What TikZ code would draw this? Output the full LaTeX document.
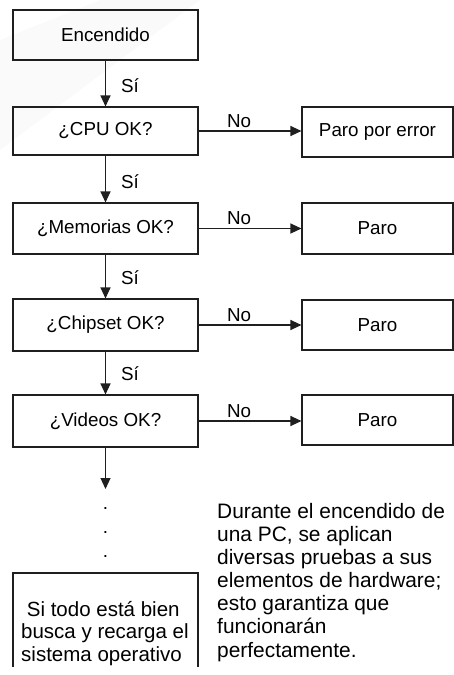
\documentclass[tikz,border=0pt]{standalone}
\usepackage{fontspec}
\setmainfont{Liberation Sans}
\usetikzlibrary{arrows.meta}

\tikzset{
  box/.style={draw=black!88, line width=1.1pt, rectangle, inner sep=0pt,
              minimum width=185pt, font=\fontsize{18.8}{22}\selectfont},
  stopbox/.style={box, minimum width=151pt, minimum height=50pt},
  arr/.style={draw=black!88, line width=1.1pt,
              -{Triangle[length=11pt,width=10pt]}},
  lbl/.style={font=\fontsize{18.8}{22}\selectfont, inner sep=0pt},
  silbl/.style={lbl, anchor=base west, at end, xshift=15pt, yshift=14pt},
  nolbl/.style={lbl, anchor=base west, at start, xshift=28pt, yshift=4pt},
}

\begin{document}
\begin{tikzpicture}[x=1pt, y=-1pt]
  \useasboundingbox (0,0) rectangle (454,675);
  % faint haze in the upper left corner
  \fill[black!2] (0,40) -- (100,0) -- (200,0) -- (0,150) -- cycle;

  % main chain of checks
  \node[box, minimum height=50pt] (enc)  at (105.5,35)    {Encendido};
  \node[box, minimum height=48pt] (cpu)  at (105.5,131)   {¿CPU OK?};
  \node[box, minimum height=51pt] (mem)  at (105.5,228.5) {¿Memorias OK?};
  \node[box, minimum height=52pt] (chip) at (105.5,325)   {¿Chipset OK?};
  \node[box, minimum height=52pt] (vid)  at (105.5,421)   {¿Videos OK?};

  % stop boxes
  \node[stopbox] (p1) at (377.5,132)   {Paro por error};
  \node[stopbox, minimum height=51pt] (p2) at (377.5,228.5) {Paro};
  \node[stopbox] (p3) at (377.5,325)   {Paro};
  \node[stopbox] (p4) at (377.5,420)   {Paro};

  % "Sí" connectors
  \draw[arr] (enc)  -- (cpu)  node[silbl] {Sí};
  \draw[arr] (cpu)  -- (mem)  node[silbl] {Sí};
  \draw[arr] (mem)  -- (chip) node[silbl] {Sí};
  \draw[arr] (chip) -- (vid)  node[silbl] {Sí};

  % "No" connectors
  \draw[arr] (cpu.east)  -- (cpu.east  -| p1.west) node[nolbl] {No};
  \draw[arr] (mem.east)  -- (mem.east  -| p2.west) node[nolbl] {No};
  \draw[arr] (chip.east) -- (chip.east -| p3.west) node[nolbl] {No};
  \draw[arr] (vid.east)  -- (vid.east  -| p4.west) node[nolbl] {No};

  % continuation (base anchor of a multi-line node = last line's baseline)
  \coordinate (cont) at (105.5,489);
  \draw[arr] (vid) -- (cont);
  \node[lbl, anchor=base, align=center,
        font=\fontsize{18.8}{24}\selectfont] (dots) at (105.5,557) {.\\.\\.};

  % final, open-bottom box
  \draw[draw=black!88, line width=1.1pt]
    (13,667) -- (13,573) -- (198,573) -- (198,667);
  \node[lbl, anchor=base west, align=left,
        font=\fontsize{20.5}{22.5}\selectfont] (fin) at (21,661)
    {\ Si todo está bien\\busca y recarga el\\sistema operativo};

  % note
  \node[lbl, anchor=base west, align=left,
        font=\fontsize{20.9}{23.1}\selectfont] (note) at (217,657)
    {Durante el encendido de\\una PC, se aplican\\diversas pruebas a sus\\
     elementos de hardware;\\esto garantiza que\\funcionarán\\perfectamente.};
\end{tikzpicture}
\end{document}
